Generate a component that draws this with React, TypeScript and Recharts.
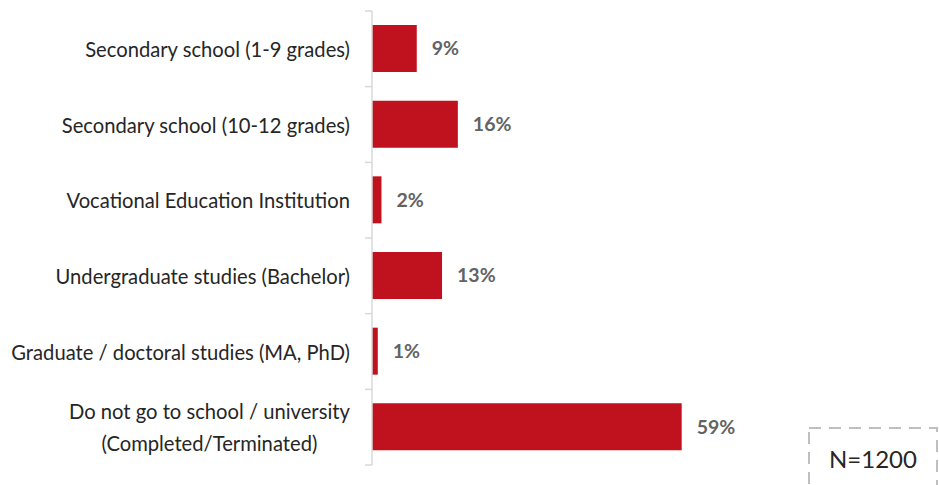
import React from "react";
import { BarChart, Bar, XAxis, YAxis, LabelList } from "recharts";

const categories = [
  "Secondary school (1-9 grades)",
  "Secondary school (10-12 grades)",
  "Vocational Education Institution",
  "Undergraduate studies (Bachelor)",
  "Graduate / doctoral studies (MA, PhD)",
  "Do not go to school / university\n(Completed/Terminated)",
];
const shares = [8.5, 16.3, 1.8, 13.3, 1.1, 58.8];
const sampleNote = "N=1200";

const W = 939;
const H = 485;
const MARGIN = { top: 11, right: 251, bottom: 20, left: 0 };
const BAND = (H - MARGIN.top - MARGIN.bottom) / categories.length;
const FONT = "Lato, 'Open Sans', sans-serif";
const LABEL_SIZE = 20.2;

const data = categories.map((name, i) => ({ name, value: shares[i] }));

function CategoryTick(props: any) {
  const { x, y, payload, index } = props;
  const lines = String(payload.value).split("\n");
  const lh = 32;
  const y0 = y - ((lines.length - 1) * lh) / 2;
  const multi = lines.length > 1;
  // wrapped labels are centred on their widest line, right-aligned to the axis
  const widest = Math.max(...lines.map((l) => l.length));
  const tx = multi ? x - 22 - (widest * LABEL_SIZE * 0.435) / 2 : x - 22;
  return (
    <g>
      <line x1={x - 7} x2={x} y1={y - BAND / 2} y2={y - BAND / 2} stroke="#d9d9d9" strokeWidth={1.5} />
      {index === categories.length - 1 && (
        <line x1={x - 7} x2={x} y1={y + BAND / 2} y2={y + BAND / 2} stroke="#d9d9d9" strokeWidth={1.5} />
      )}
      <text
        x={tx}
        y={y0}
        textAnchor={multi ? "middle" : "end"}
        dominantBaseline="central"
        fill="#262626"
        fontSize={LABEL_SIZE}
        fontFamily={FONT}
      >
        {lines.map((l, i) => (
          <tspan key={i} x={tx} dy={i === 0 ? 0 : lh}>
            {l}
          </tspan>
        ))}
      </text>
    </g>
  );
}

export default function App() {
  return (
    <div style={{ position: "fixed", left: 0, top: 0, width: W, height: H, background: "#fff", overflow: "hidden" }}>
      <BarChart width={W} height={H} data={data} layout="vertical" margin={MARGIN}>
        <XAxis type="number" domain={[0, 60]} hide />
        <YAxis
          type="category"
          dataKey="name"
          width={372}
          axisLine={{ stroke: "#d9d9d9", strokeWidth: 1.5 }}
          tickLine={false}
          tickSize={0}
          tickMargin={0}
          tick={<CategoryTick />}
          interval={0}
        />
        <Bar dataKey="value" fill="#c0111f" barSize={47} isAnimationActive={false}>
          <LabelList
            dataKey="value"
            position="right"
            offset={15}
            formatter={(v: any) => `${Math.round(Number(v))}%`}
            fill="#636363"
            fontWeight="bold"
            fontSize={19.5}
            fontFamily={FONT}
          />
        </Bar>
      </BarChart>
      <svg style={{ position: "absolute", left: 0, top: 0 }} width={W} height={H}>
        <rect x={809} y={428} width={128} height={80} fill="none" stroke="#bfbfbf" strokeWidth={2} strokeDasharray="12 8" />
        <text x={873} y={458} textAnchor="middle" dominantBaseline="central" fontSize={24} fill="#262626" fontFamily={FONT}>
          {sampleNote}
        </text>
      </svg>
    </div>
  );
}
